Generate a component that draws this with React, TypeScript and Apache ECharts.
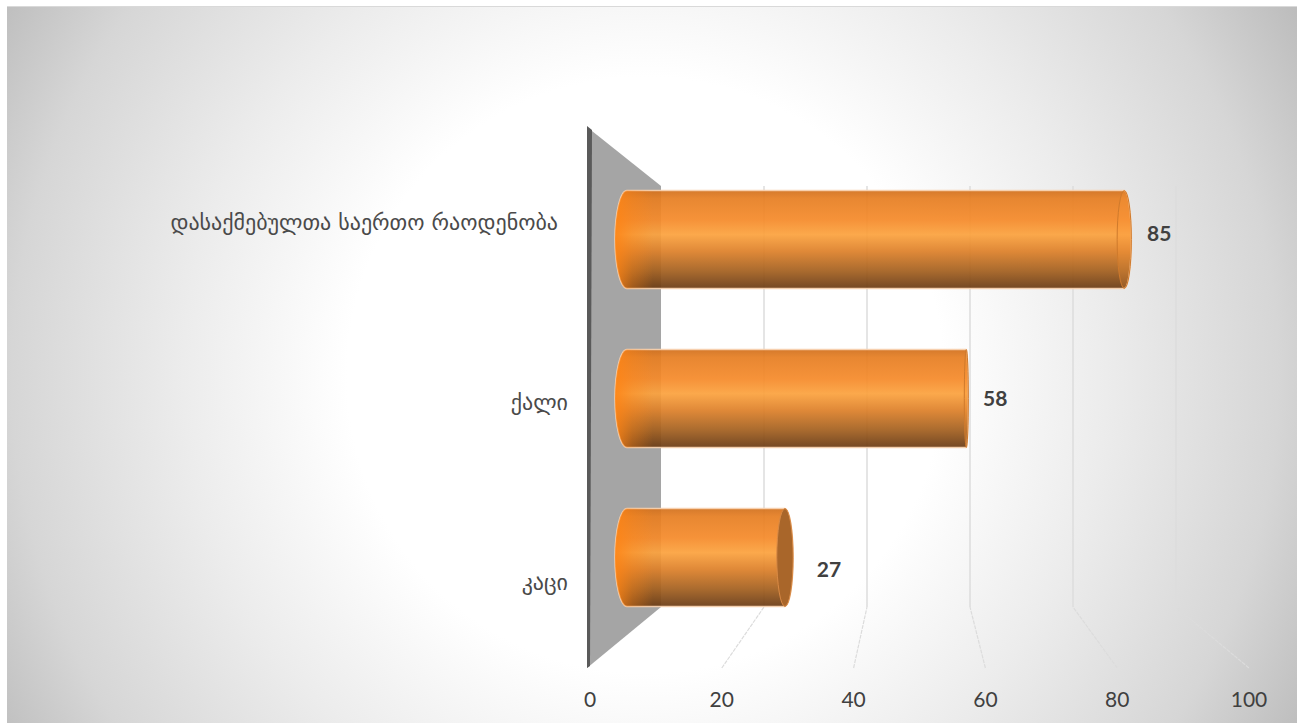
import React, { useEffect, useRef } from "react";
import * as echarts from "echarts";

const categories = ["კაცი", "ქალი", "დასაქმებულთა საერთო რაოდენობა"];
const values = [27, 58, 85];
const tickValues = [20, 40, 60, 80, 100];

const FONT_LATIN = "Lato";
const FONT_GEO = "DejaVu Sans";
const FRONT = { left: 590, width: 659, top: 132, height: 540 };
const WALL = { top: 127, bottom: 668 };
const MID = { left: 627, width: 585, top: 160, height: 477 };
const BACK = { left: 661, width: 515, top: 186, height: 421 };
const backX = (v: number) => BACK.left + (v / 100) * BACK.width;

const LABEL_NUDGE: Record<number, [number, number]> = { 0: [44, 11], 1: [29, -1], 2: [35, -7] };

const bodyFill = () =>
  new echarts.graphic.LinearGradient(0, 0, 0, 1, [
    { offset: 0, color: "#d2701c" },
    { offset: 0.08, color: "#e67e22" },
    { offset: 0.3, color: "#f58a2a" },
    { offset: 0.45, color: "#fba23e" },
    { offset: 0.62, color: "#dd8029" },
    { offset: 0.82, color: "#a4601f" },
    { offset: 1, color: "#6a3b14" },
  ]);

function renderBar(params: any, api: any) {
  const v = api.value(0);
  const cat = api.value(1);
  const [x1, cy] = api.coord([v, cat]);
  const [x0] = api.coord([0, cat]);
  const [xFlat] = api.coord([58, cat]);
  const h = api.size([0, 1])[1] * 0.615;
  const top = cy - h / 2;
  const bot = cy + h / 2;
  const ry = h / 2;
  const rxL = 12;
  const rxR = Math.max(2, Math.abs(x1 - xFlat) * 0.045);
  const d = `M${x0},${top} L${x1},${top} A${rxR},${ry} 0 0 1 ${x1},${bot} L${x0},${bot} A${rxL},${ry} 0 0 1 ${x0},${top} Z`;
  const capD = `M${x1},${top} A${rxR},${ry} 0 0 1 ${x1},${bot} A${rxR},${ry} 0 0 1 ${x1},${top} Z`;
  const leftD = `M${x0 + 26},${top} L${x0},${top} A${rxL},${ry} 0 0 0 ${x0},${bot} L${x0 + 26},${bot} Z`;
  const isInner = x1 < xFlat;
  const [nx, ny] = LABEL_NUDGE[cat];
  return {
    type: "group",
    children: [
      {
        type: "path",
        shape: { pathData: d, x: x0 - rxL, y: top, width: x1 + rxR - x0 + rxL, height: h },
        style: { fill: bodyFill(), stroke: "#f8d2b0", lineWidth: 1.5, opacity: 0.93 },
      },
      {
        type: "path",
        shape: { pathData: leftD, x: x0 - rxL, y: top, width: rxL + 26, height: h },
        style: {
          fill: new echarts.graphic.LinearGradient(0, 0, 1, 0, [
            { offset: 0, color: "rgba(255,132,20,0.85)" },
            { offset: 0.45, color: "rgba(255,132,20,0.35)" },
            { offset: 1, color: "rgba(255,132,20,0)" },
          ]),
        },
      },
      {
        type: "path",
        shape: { pathData: capD, x: x1 - rxR, y: top, width: 2 * rxR, height: h },
        style: isInner
          ? { fill: "#a9662a", stroke: "#d98a45", lineWidth: 1 }
          : { fill: "rgba(255,150,50,0.25)", stroke: "#cf7a2c", lineWidth: 1 },
      },
      {
        type: "text",
        x: x1 + nx,
        y: cy + ny,
        style: {
          text: String(v),
          fontFamily: FONT_LATIN,
          fontWeight: "bold",
          fontSize: 21,
          fill: "#404040",
          align: "center",
          verticalAlign: "middle",
        },
      },
    ],
  };
}

function renderWall(params: any) {
  const c = params.coordSys;
  const l = c.x - 3;
  return {
    type: "group",
    children: [
      {
        type: "polygon",
        shape: {
          points: [
            [l, WALL.top],
            [BACK.left, BACK.top],
            [BACK.left, BACK.top + BACK.height],
            [l, WALL.bottom],
          ],
        },
        style: { fill: "#a5a5a5" },
      },
      {
        type: "polygon",
        shape: {
          points: [
            [l, WALL.top - 1],
            [l + 5, WALL.top + 3],
            [l + 3, WALL.bottom - 2],
            [l, WALL.bottom],
          ],
        },
        style: { fill: "#5a5a5a" },
      },
    ],
  };
}

function renderDiagonal(params: any, api: any) {
  const v = api.value(0);
  const [x] = api.coord([v, 0]);
  return {
    type: "line",
    shape: { x1: x, y1: WALL.bottom, x2: backX(v), y2: BACK.top + BACK.height },
    style: { stroke: "#dcdcdc", lineWidth: 1.2, lineDash: [4, 1] },
  };
}

const geoLabel = (s: string) =>
  s.length > 10 ? `{long|${s}}` : `{short|${s}}`;

const hiddenX = (gridIndex: number, extra: any = {}) => ({
  type: "value",
  gridIndex,
  min: 0,
  max: 100,
  interval: 20,
  axisLine: { show: false },
  axisTick: { show: false },
  axisLabel: { show: false },
  splitLine: { show: false },
  ...extra,
});
const hiddenY = (gridIndex: number, extra: any = {}) => ({
  type: "category",
  gridIndex,
  data: categories,
  axisLine: { show: false },
  axisTick: { show: false },
  axisLabel: { show: false },
  splitLine: { show: false },
  ...extra,
});
const toGrid = (p: typeof FRONT) => ({
  left: p.left,
  top: p.top,
  width: p.width,
  height: p.height,
  containLabel: false,
});

export default function App() {
  const ref = useRef<HTMLDivElement>(null);
  useEffect(() => {
    if (!ref.current) return;
    const chart = echarts.init(ref.current, undefined, { renderer: "svg" });
    chart.setOption({
      animation: false,
      backgroundColor: "#ffffff",
      graphic: [
        {
          type: "rect",
          z: -10,
          silent: true,
          shape: { x: 7, y: 6, width: 1290, height: 717 },
          style: {
            fill: {
              type: "radial",
              x: 645,
              y: 375,
              r: 745,
              global: true,
              colorStops: [
                { offset: 0, color: "#ffffff" },
                { offset: 0.4, color: "#ffffff" },
                { offset: 0.62, color: "#ececec" },
                { offset: 0.85, color: "#d6d6d6" },
                { offset: 1, color: "#bdbdbd" },
              ],
            },
            lineWidth: 0,
          },
        },
        {
          type: "line",
          z: -9,
          silent: true,
          shape: { x1: 7, y1: 6.5, x2: 1297, y2: 6.5 },
          style: { stroke: "#d9d9d9", lineWidth: 1 },
        },
      ],
      grid: [toGrid(FRONT), toGrid(MID), toGrid(BACK)],
      xAxis: [
        hiddenX(0, {
          axisLabel: { show: true, margin: 16, fontFamily: FONT_LATIN, fontSize: 21, color: "#404040" },
        }),
        hiddenX(1),
        hiddenX(2, {
          splitLine: { show: true, showMinLine: false, lineStyle: { color: "#dcdcdc", width: 1.5 } },
        }),
      ],
      yAxis: [
        hiddenY(0, {
          axisLabel: {
            show: true,
            margin: 22,
            fontFamily: FONT_GEO,
            fontSize: 22,
            color: "#4a4a4a",
            formatter: geoLabel,
            rich: {
              long: { fontFamily: FONT_GEO, fontSize: 22, color: "#4a4a4a", padding: [0, 10, 0, 0] },
              short: { fontFamily: FONT_GEO, fontSize: 22, color: "#4a4a4a" },
            },
          },
        }),
        hiddenY(1),
        hiddenY(2),
      ],
      series: [
        {
          type: "custom",
          xAxisIndex: 0,
          yAxisIndex: 0,
          z: 1,
          silent: true,
          renderItem: renderWall,
          data: [[0, 0]],
          encode: { x: 0, y: 1 },
        },
        {
          type: "custom",
          xAxisIndex: 0,
          yAxisIndex: 0,
          z: 1,
          silent: true,
          renderItem: renderDiagonal,
          data: tickValues.map((v) => [v, 0]),
          encode: { x: 0, y: 1 },
        },
        {
          type: "custom",
          xAxisIndex: 1,
          yAxisIndex: 1,
          z: 3,
          silent: true,
          renderItem: renderBar,
          data: values.map((v, i) => [v, i]),
          encode: { x: 0, y: 1 },
        },
      ],
    });
    return () => chart.dispose();
  }, []);
  return (
    <div
      ref={ref}
      style={{ position: "fixed", left: 0, top: 0, width: 1299, height: 723 }}
    />
  );
}
